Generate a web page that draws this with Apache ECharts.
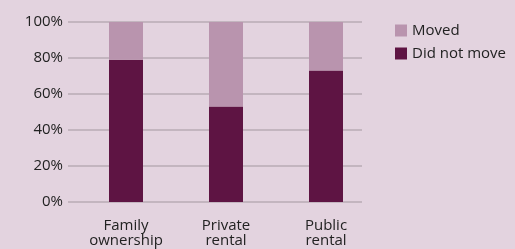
<!DOCTYPE html>
<html>
<head>
<meta charset="utf-8">
<style>
  html, body { margin: 0; padding: 0; background: #e3d3df; }
  #chart { width: 515px; height: 249px; }
</style>
<script src="https://cdn.jsdelivr.net/npm/echarts@6/dist/echarts.min.js"></script>
</head>
<body>
<div id="chart"></div>
<script>
// data
const categories = ['Family\nownership', 'Private\nrental', 'Public\nrental'];
const didNotMove = [79, 53, 73];
const moved = [21, 47, 27];
const yTicks = [0, 20, 40, 60, 80, 100];

const textColor = '#222222';
const fontFamily = '"Open Sans", "Noto Sans", sans-serif';

const chart = echarts.init(document.getElementById('chart'));
chart.setOption({
    backgroundColor: '#e3d3df',
    animation: false,
    legend: {
        left: 390,
        top: 18,
        orient: 'vertical',
        itemWidth: 12,
        itemHeight: 12,
        itemGap: 8,
        icon: 'rect',
        data: ['Moved', 'Did not move'],
        textStyle: { color: textColor, fontSize: 15, fontFamily: fontFamily }
    },
    grid: [
        // gridlines + y labels
        { left: 68, right: 153, top: 22, bottom: 47 },
        // bars
        { left: 76, right: 139, top: 22, bottom: 47 }
    ],
    xAxis: [
        { type: 'category', gridIndex: 0, data: categories, show: false },
        {
            type: 'category', gridIndex: 1, data: categories,
            axisLine: { show: false },
            axisTick: { show: false },
            axisLabel: {
                color: textColor, fontSize: 15, fontFamily: fontFamily,
                lineHeight: 15, margin: 16
            }
        }
    ],
    yAxis: [
        {
            type: 'value', gridIndex: 0, min: yTicks[0], max: yTicks[yTicks.length - 1], interval: 20,
            axisLine: { show: false },
            axisTick: { show: false },
            splitLine: { lineStyle: { color: '#b8abb4', width: 1.5 } },
            axisLabel: {
                formatter: '{value}%', color: textColor, fontSize: 15,
                fontFamily: fontFamily, margin: 5
            }
        },
        { type: 'value', gridIndex: 1, min: 0, max: 100, show: false }
    ],
    series: [
        {
            name: 'Did not move', type: 'bar', stack: 'total',
            xAxisIndex: 1, yAxisIndex: 1,
            barWidth: 34,
            itemStyle: { color: '#5e1443' },
            data: didNotMove
        },
        {
            name: 'Moved', type: 'bar', stack: 'total',
            xAxisIndex: 1, yAxisIndex: 1,
            barWidth: 34,
            itemStyle: { color: '#b994ae' },
            data: moved
        }
    ]
});
</script>
</body>
</html>
